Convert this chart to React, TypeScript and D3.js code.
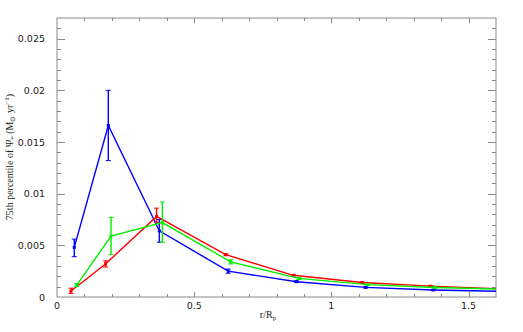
import React, { useEffect, useRef } from "react";
import * as d3 from "d3";

// r / R_p positions (each series slightly offset in the original)
const radiusBlue = [0.063, 0.187, 0.373, 0.624, 0.873, 1.125, 1.371, 1.62];
const radiusRed = [0.051, 0.177, 0.363, 0.615, 0.861, 1.112, 1.362, 1.61];
const radiusGreen = [0.072, 0.197, 0.384, 0.633, 0.882, 1.132, 1.377, 1.625];

// 75th percentile of SFR
const sfrBlue = [0.0048, 0.0166, 0.0064, 0.0025, 0.00148, 0.00093, 0.00068, 0.00055];
const sfrRed = [0.00058, 0.0032, 0.0078, 0.0041, 0.0021, 0.0014, 0.00105, 0.0008];
const sfrGreen = [0.00115, 0.0059, 0.0072, 0.0034, 0.0018, 0.0012, 0.00092, 0.00075];

// error bar ends
const lowBlue = [0.0039, 0.0132, 0.0053, 0.0023, 0.0014, 0.00087, 0.00063, 0.0005];
const highBlue = [0.0056, 0.02, 0.0075, 0.0027, 0.00156, 0.00099, 0.00073, 0.0006];
const lowRed = [0.00035, 0.0029, 0.0072, 0.004, 0.00202, 0.00134, 0.001, 0.00076];
const highRed = [0.00085, 0.0035, 0.0086, 0.0042, 0.00218, 0.00146, 0.0011, 0.00084];
const lowGreen = [0.001, 0.0041, 0.0053, 0.0032, 0.0017, 0.00114, 0.00087, 0.0007];
const highGreen = [0.0013, 0.0077, 0.0092, 0.0036, 0.0019, 0.00126, 0.00097, 0.0008];

const xTickValues = [0, 0.5, 1, 1.5];
const yTickValues = [0, 0.005, 0.01, 0.015, 0.02, 0.025];

export default function App() {
  const svgRef = useRef<SVGSVGElement>(null);

  useEffect(() => {
    const width = 523;
    const height = 332;
    const left = 57;
    const right = 496;
    const top = 18;
    const bottom = 297;

    const svg = d3.select(svgRef.current);
    svg.selectAll("*").remove();
    svg.attr("width", width).attr("height", height);

    const x = d3.scaleLinear().domain([0, 1.6]).range([left, right]);
    const y = d3.scaleLinear().domain([0, 0.027]).range([bottom, top]);

    svg
      .append("defs")
      .append("clipPath")
      .attr("id", "plot-clip")
      .append("rect")
      .attr("x", left)
      .attr("y", top)
      .attr("width", right - left)
      .attr("height", bottom - top);

    const frameColor = "#8a8a8a";
    const axes = svg.append("g").attr("stroke", frameColor).attr("stroke-width", 1);

    axes
      .append("rect")
      .attr("x", left)
      .attr("y", top)
      .attr("width", right - left)
      .attr("height", bottom - top)
      .attr("fill", "none");

    // x ticks, bottom and top, pointing inward
    d3.range(1, 16).forEach((i) => {
      const major = i % 5 === 0;
      const len = major ? 5 : 3;
      const px = Math.round(x(i / 10)) + 0.5;
      axes.append("line").attr("x1", px).attr("x2", px).attr("y1", bottom).attr("y2", bottom - len);
      axes.append("line").attr("x1", px).attr("x2", px).attr("y1", top).attr("y2", top + len);
    });

    // y ticks, left and right
    d3.range(1, 27).forEach((i) => {
      const major = i % 5 === 0;
      const len = major ? 8 : 4;
      const py = Math.round(y(i / 1000)) + 0.5;
      axes.append("line").attr("x1", left).attr("x2", left + len).attr("y1", py).attr("y2", py);
      axes.append("line").attr("x1", right).attr("x2", right - len).attr("y1", py).attr("y2", py);
    });

    const labelFont = "DejaVu Sans, sans-serif";

    svg
      .append("g")
      .selectAll("text")
      .data(xTickValues)
      .enter()
      .append("text")
      .attr("x", (d) => x(d))
      .attr("y", 309)
      .attr("text-anchor", "middle")
      .attr("font-family", labelFont)
      .attr("font-size", 9.5)
      .attr("fill", "#222")
      .text((d) => String(d));

    svg
      .append("g")
      .selectAll("text")
      .data(yTickValues)
      .enter()
      .append("text")
      .attr("x", 45)
      .attr("y", (d) => y(d) + 3.5)
      .attr("text-anchor", "end")
      .attr("font-family", labelFont)
      .attr("font-size", 9.5)
      .attr("fill", "#222")
      .text((d) => String(d));

    const series = [
      { color: "#0000ff", r: radiusBlue, v: sfrBlue, lo: lowBlue, hi: highBlue },
      { color: "#ff0000", r: radiusRed, v: sfrRed, lo: lowRed, hi: highRed },
      { color: "#00ee00", r: radiusGreen, v: sfrGreen, lo: lowGreen, hi: highGreen },
    ];

    const plot = svg.append("g").attr("clip-path", "url(#plot-clip)");

    series.forEach((s) => {
      const g = plot.append("g").attr("stroke", s.color).attr("fill", s.color);
      const pts = s.v.map((v, i) => ({ r: s.r[i], v, lo: s.lo[i], hi: s.hi[i] }));

      g.append("path")
        .datum(pts)
        .attr("fill", "none")
        .attr("stroke-width", 1.4)
        .attr(
          "d",
          d3
            .line<{ r: number; v: number }>()
            .x((d) => x(d.r))
            .y((d) => y(d.v))
        );

      const bars = g.selectAll("g.err").data(pts).enter().append("g").attr("class", "err");
      bars
        .append("line")
        .attr("x1", (d) => x(d.r))
        .attr("x2", (d) => x(d.r))
        .attr("y1", (d) => y(d.lo))
        .attr("y2", (d) => y(d.hi))
        .attr("stroke-width", 1.4);
      bars
        .append("line")
        .attr("x1", (d) => x(d.r) - 2.5)
        .attr("x2", (d) => x(d.r) + 2.5)
        .attr("y1", (d) => y(d.lo))
        .attr("y2", (d) => y(d.lo))
        .attr("stroke-width", 1);
      bars
        .append("line")
        .attr("x1", (d) => x(d.r) - 2.5)
        .attr("x2", (d) => x(d.r) + 2.5)
        .attr("y1", (d) => y(d.hi))
        .attr("y2", (d) => y(d.hi))
        .attr("stroke-width", 1);
      bars
        .append("rect")
        .attr("x", (d) => x(d.r) - 1.5)
        .attr("y", (d) => y(d.v) - 1.5)
        .attr("width", 3)
        .attr("height", 3)
        .attr("stroke", "none");
    });

    // axis titles
    svg
      .append("text")
      .attr("transform", "translate(13, 157) rotate(-90)")
      .attr("text-anchor", "middle")
      .attr("font-family", "Liberation Serif, Times New Roman, serif")
      .attr("font-size", 10)
      .attr("fill", "#222")
      .call((t) => {
        t.append("tspan").text("75th percentile of \u03A8");
        t.append("tspan").attr("font-size", 7).attr("dy", 2).text("*");
        t.append("tspan").attr("dy", -2).text(" (M");
        t.append("tspan").attr("font-size", 7).attr("dy", 2).text("\u2299");
        t.append("tspan").attr("dy", -2).text(" yr");
        t.append("tspan").attr("font-size", 7).attr("dy", -4).text("\u22121");
        t.append("tspan").attr("dy", 4).text(")");
      });

    svg
      .append("text")
      .attr("x", 268)
      .attr("y", 318)
      .attr("text-anchor", "middle")
      .attr("font-family", "Liberation Serif, Times New Roman, serif")
      .attr("font-size", 10)
      .attr("fill", "#222")
      .call((t) => {
        t.append("tspan").text("r/R");
        t.append("tspan").attr("font-size", 7).attr("dy", 2).text("p");
      });
  }, []);

  return (
    <div style={{ position: "absolute", left: 0, top: 0 }}>
      <svg ref={svgRef} style={{ display: "block", background: "#fff" }}></svg>
    </div>
  );
}
